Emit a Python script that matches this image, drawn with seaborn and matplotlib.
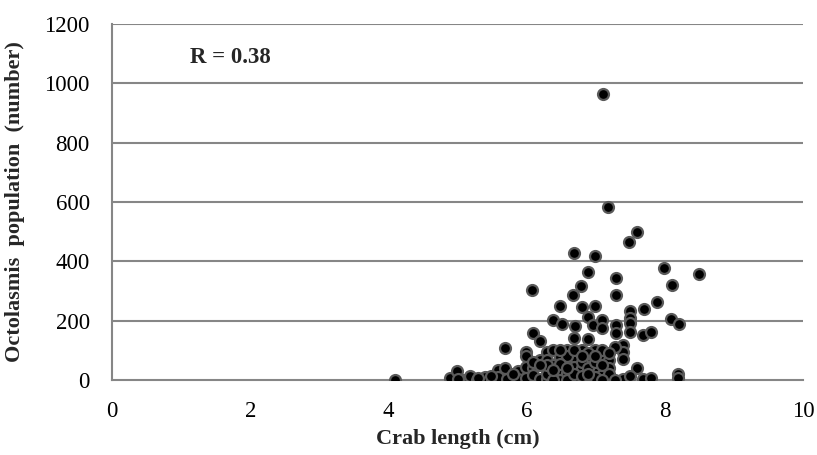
import matplotlib
matplotlib.use("Agg")
import matplotlib.pyplot as plt
import seaborn as sns
import pandas as pd

crab_length = [
    7.11, 7.18, 7.60, 7.48, 6.69, 6.99, 6.89, 7.29, 7.99, 8.50, 8.10, 6.79, 6.08, 6.67, 7.29,
    6.48, 6.80, 6.99, 7.50, 7.70, 7.89, 7.50, 8.09, 8.20, 6.38, 6.51, 6.70, 6.89, 6.96, 7.09,
    7.09, 7.29, 7.29, 7.50, 7.50, 7.68, 7.80, 6.09, 6.19, 5.69, 5.99, 5.99, 6.69, 6.89, 7.40,
    7.40, 7.40, 7.28, 7.60, 7.68, 7.80, 8.19, 8.19, 7.40, 4.10, 4.89, 4.99, 5.08, 5.18, 5.28,
    5.40, 5.50, 5.59, 5.69, 5.59, 5.71, 5.88, 5.88, 5.99, 5.99, 6.09, 6.09, 6.19, 6.19, 6.29,
    6.29, 6.29, 6.29, 6.38, 6.38, 6.38, 6.48, 6.48, 6.48, 6.58, 6.58, 6.58, 6.69, 6.69, 6.69,
    6.80, 6.80, 6.89, 6.89, 6.99, 6.99, 7.09, 7.09, 7.19, 7.19, 7.19,
    6.29, 6.38, 6.58, 6.58, 6.69, 6.69, 6.80, 6.80, 6.89, 6.89, 6.99, 6.99, 7.09, 7.09, 7.19,
    7.19, 6.48, 6.48, 6.29, 6.09, 5.80, 5.49, 6.19, 6.38, 6.80, 6.58, 6.99, 7.09, 6.89, 7.28,
    7.50, 5.00, 5.30,
]
octolasmis_count = [
    964, 583, 499, 465, 428, 418, 364, 344, 378, 357, 320, 317, 303, 287, 287,
    249, 246, 249, 232, 239, 263, 209, 206, 189, 202, 189, 182, 212, 185, 202,
    175, 185, 158, 192, 162, 152, 162, 158, 131, 108, 94, 81, 142, 138, 118,
    94, 71, 111, 40, 3, 7, 20, 7, 3, 0, 7, 30, 0, 13, 0,
    10, 3, 34, 40, 10, 3, 30, 3, 44, 7, 40, 17, 67, 3, 94,
    67, 34, 3, 101, 51, 17, 78, 34, 0, 101, 57, 24, 78, 44, 3,
    101, 40, 67, 7, 101, 34, 78, 17, 67, 40, 3,
    20, 0, 0, 80, 100, 20, 60, 15, 90, 40, 60, 10, 100, 50, 20,
    90, 100, 55, 50, 60, 20, 15, 50, 35, 80, 40, 80, 0, 20, 0,
    12, 5, 8,
]
x_ticks = [0, 2, 4, 6, 8, 10]
y_ticks = [0, 200, 400, 600, 800, 1000, 1200]
r_text = "R = 0.38"

df = pd.DataFrame({"length": crab_length, "count": octolasmis_count})

sns.set_style("white")
plt.rcParams["font.family"] = ["Liberation Serif", "DejaVu Serif"]

fig = plt.figure(figsize=(8.17, 4.55), dpi=100)
ax = fig.add_axes([112 / 817, 75 / 455, 691 / 817, 356 / 455])

grid_col = "#868686"
ax.set_axisbelow(True)
for yv in y_ticks[1:]:
    ax.axhline(yv, color=grid_col, lw=1.5, zorder=0)

sns.scatterplot(data=df, x="length", y="count", ax=ax, color="black",
                edgecolor="#5a5a5a", linewidth=1.6, s=62, zorder=3, legend=False)

ax.set_xlim(0, 10)
ax.set_ylim(0, 1200)
ax.set_xticks(x_ticks)
ax.set_yticks(y_ticks)
ax.tick_params(axis="both", length=0, labelsize=16.5, colors="black")
ax.tick_params(axis="y", pad=16)
ax.tick_params(axis="x", pad=15)

for s in ["top", "right"]:
    ax.spines[s].set_visible(False)
for s in ["left", "bottom"]:
    ax.spines[s].set_color(grid_col)
    ax.spines[s].set_linewidth(1.5)

ax.set_xlabel("Crab length (cm)", fontsize=16, fontweight="bold", labelpad=5)
ax.set_ylabel("Octolasmis  population  (number)", fontsize=16, fontweight="bold", labelpad=14)

ax.text(0.113, 0.905, r_text, transform=ax.transAxes, fontsize=16.5, fontweight="bold",
        ha="left", va="center")

fig.savefig("out.png", dpi=100)
